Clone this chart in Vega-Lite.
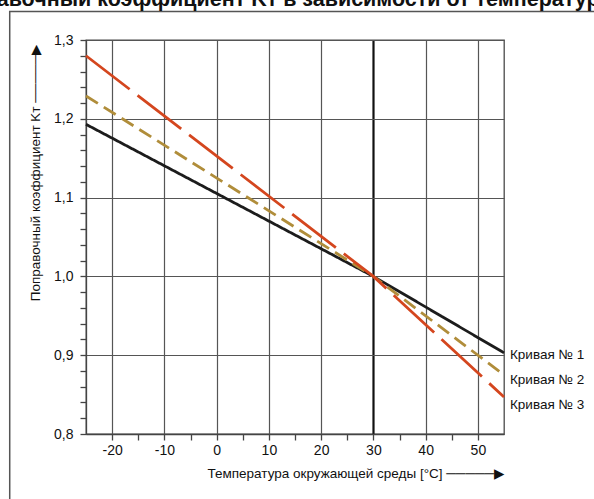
{
  "$schema": "https://vega.github.io/schema/vega-lite/v6.json",
  "width": 418,
  "height": 394,
  "autosize": "none",
  "padding": {"left": 86, "top": 40, "right": 90, "bottom": 65},
  "background": "white",
  "title": {
    "text": "Поправочный коэффициент Kᴛ в зависимости от температуры окружающей среды",
    "font": "Liberation Sans",
    "fontWeight": "bold",
    "fontSize": 21.5,
    "color": "#111",
    "anchor": "start",
    "frame": "group",
    "baseline": "alphabetic",
    "offset": 0,
    "dx": -144,
    "dy": 17
  },
  "config": {
    "font": "Liberation Sans, DejaVu Sans",
    "view": {"stroke": "#4a4a4a", "strokeWidth": 1.3}
  },
  "datasets": {
    "curves": [
      {"curve": "Кривая № 1", "t": -25, "k": 1.193},
      {"curve": "Кривая № 1", "t": 30, "k": 1.0},
      {"curve": "Кривая № 1", "t": 55, "k": 0.903},
      {"curve": "Кривая № 2", "t": -25, "k": 1.229},
      {"curve": "Кривая № 2", "t": 30, "k": 1.0},
      {"curve": "Кривая № 2", "t": 55, "k": 0.875},
      {"curve": "Кривая № 3", "t": -25, "k": 1.28},
      {"curve": "Кривая № 3", "t": 30, "k": 1.0},
      {"curve": "Кривая № 3", "t": 55, "k": 0.847}
    ],
    "labels": [
      {"curve": "Кривая № 1", "t": 55, "k": 0.9},
      {"curve": "Кривая № 2", "t": 55, "k": 0.868},
      {"curve": "Кривая № 3", "t": 55, "k": 0.8365}
    ],
    "frame": [
      {"t0": -39.6, "t1": 80, "k0": 1.3362, "k1": 0.6}
    ]
  },
  "layer": [
    {
      "data": {"name": "curves"},
      "mark": {"type": "line", "strokeWidth": 2.8, "strokeCap": "butt"},
      "encoding": {
        "x": {
          "field": "t",
          "type": "quantitative",
          "scale": {"domain": [-25, 55], "nice": false, "zero": false},
          "axis": {
            "title": "Температура окружающей среды [°C]   ─────▶",
            "titleFont": "Liberation Sans, DejaVu Sans",
            "titleFontSize": 13.5,
            "titleFontWeight": "normal",
            "titleColor": "#111",
            "titleAnchor": "end",
            "titleBaseline": "middle",
            "titleY": 39,
            "values": [-20, -15, -10, -5, 0, 5, 10, 15, 20, 25, 30, 35, 40, 45, 50],
            "tickCount": 100,
            "labelExpr": "indexof([-20, -10, 0, 10, 20, 30, 40, 50], datum.value) >= 0 ? '' + datum.value : ''",
            "labelFont": "Liberation Sans",
            "labelFontSize": 14,
            "labelColor": "#111",
            "labelPadding": 3,
            "labelFlush": false,
            "labelOverlap": false,
            "tickSize": 6,
            "tickColor": "#444",
            "tickWidth": 1.3,
            "domainColor": "#444",
            "domainWidth": 1.3,
            "grid": true,
            "gridOpacity": {"condition": {"test": "indexof([-20, -10, 0, 10, 20, 30, 40, 50], datum.value) >= 0", "value": 1}, "value": 0},
            "gridColor": {"condition": {"test": "datum.value == 30", "value": "#111"}, "value": "#555"},
            "gridWidth": {"condition": {"test": "datum.value == 30", "value": 2.2}, "value": 1.2}
          }
        },
        "y": {
          "field": "k",
          "type": "quantitative",
          "scale": {"domain": [0.8, 1.3], "nice": false, "zero": false},
          "axis": {
            "title": "Поправочный коэффициент Kᴛ   ─────▶",
            "titleFont": "Liberation Sans, DejaVu Sans",
            "titleFontSize": 13.5,
            "titleFontWeight": "normal",
            "titleColor": "#111",
            "titleAngle": -90,
            "titleAnchor": "end",
            "titleAlign": "right",
            "titleBaseline": "middle",
            "titleX": -51,
            "titleY": 4,
            "values": [0.8, 0.82, 0.84, 0.86, 0.88, 0.9, 0.92, 0.94, 0.96, 0.98, 1, 1.02, 1.04, 1.06, 1.08, 1.1, 1.12, 1.14, 1.16, 1.18, 1.2, 1.22, 1.24, 1.26, 1.28, 1.3],
            "tickCount": 100,
            "labelExpr": "indexof([0.8, 0.9, 1, 1.1, 1.2, 1.3], datum.value) >= 0 ? replace(format(datum.value, '.1f'), '.', ',') : ''",
            "labelFont": "Liberation Sans",
            "labelFontSize": 14,
            "labelColor": "#111",
            "labelPadding": 7,
            "labelFlush": false,
            "labelOverlap": false,
            "tickSize": 6,
            "tickColor": "#444",
            "tickWidth": 1.3,
            "domainColor": "#444",
            "domainWidth": 1.3,
            "grid": true,
            "gridOpacity": {"condition": {"test": "indexof([0.8, 0.9, 1, 1.1, 1.2, 1.3], datum.value) >= 0", "value": 1}, "value": 0},
            "gridColor": "#555",
            "gridWidth": 1.2
          }
        },
        "color": {
          "field": "curve",
          "type": "nominal",
          "scale": {"domain": ["Кривая № 1", "Кривая № 2", "Кривая № 3"], "range": ["#1c1c1c", "#b08d3a", "#d4461e"]},
          "legend": null
        },
        "strokeDash": {
          "field": "curve",
          "type": "nominal",
          "scale": {"domain": ["Кривая № 1", "Кривая № 2", "Кривая № 3"], "range": [[1, 0], [14, 7], [55, 10]]},
          "legend": null
        }
      }
    },
    {
      "data": {"name": "labels"},
      "mark": {"type": "text", "align": "left", "baseline": "middle", "dx": 6, "fontSize": 13.5, "color": "#111", "font": "Liberation Sans"},
      "encoding": {
        "x": {"field": "t", "type": "quantitative"},
        "y": {"field": "k", "type": "quantitative"},
        "text": {"field": "curve"}
      }
    },
    {
      "data": {"name": "frame"},
      "mark": {"type": "rect", "filled": false, "stroke": "#555", "strokeWidth": 1.5, "strokeOpacity": 1, "clip": false},
      "encoding": {
        "x": {"field": "t0", "type": "quantitative"},
        "x2": {"field": "t1"},
        "y": {"field": "k0", "type": "quantitative"},
        "y2": {"field": "k1"}
      }
    }
  ]
}
